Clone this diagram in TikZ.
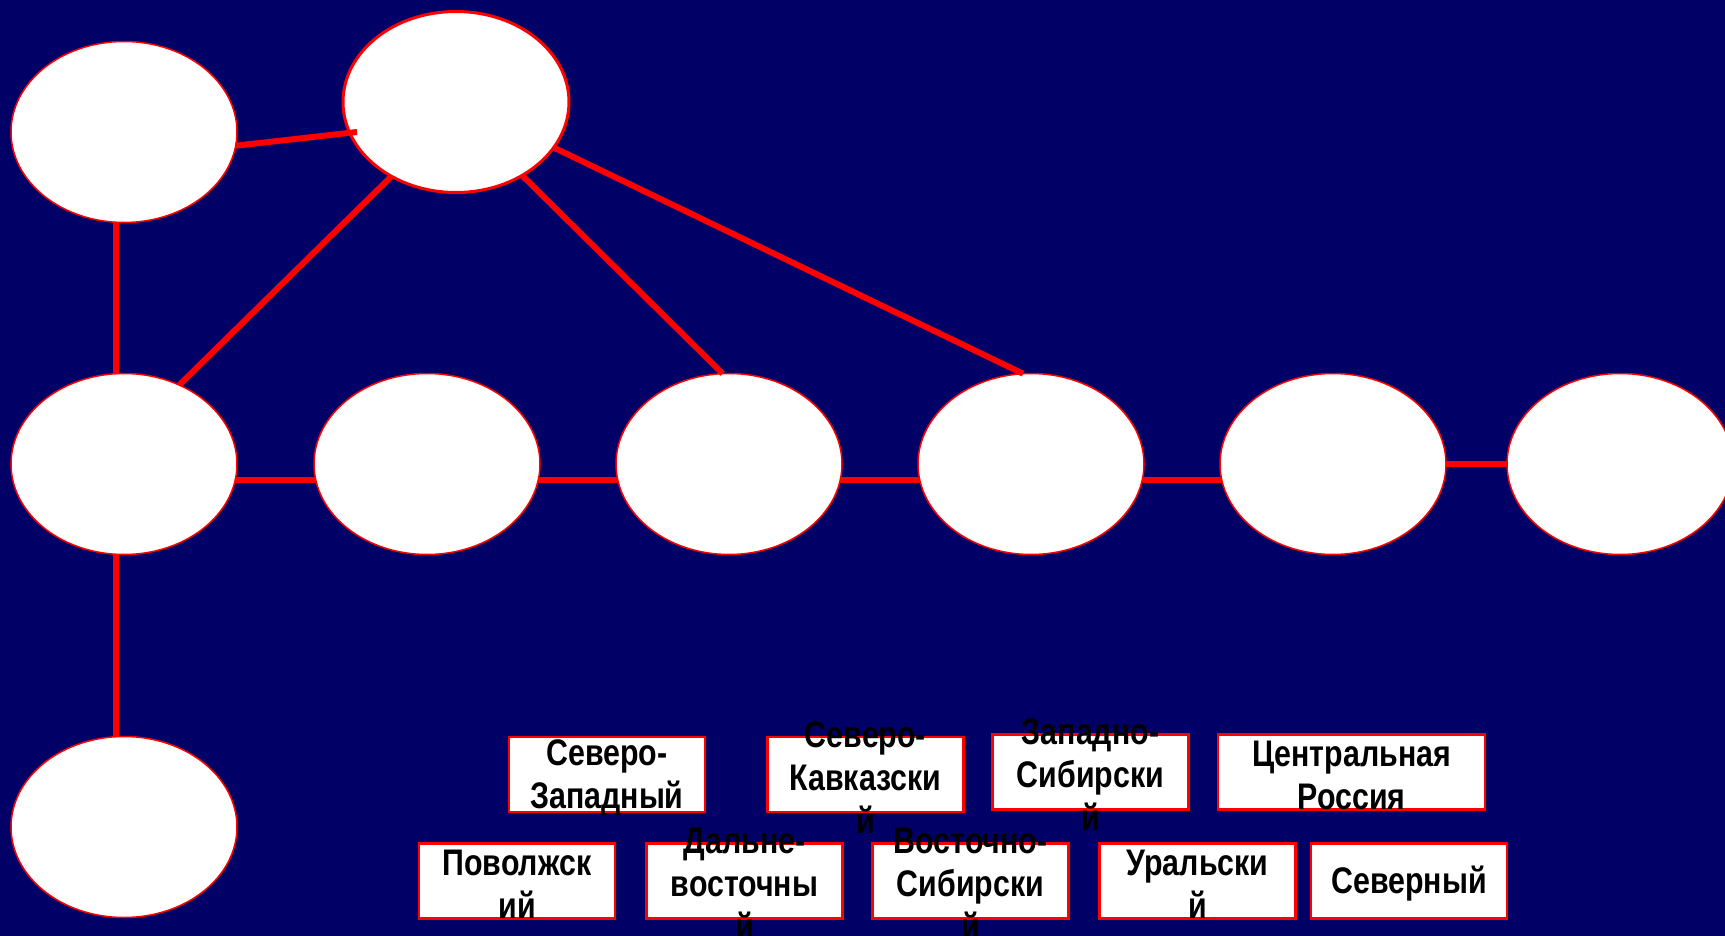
\documentclass[tikz,border=0pt]{standalone}
\usepackage{fontspec}
\newfontfamily\regfont{Liberation Sans}[FakeStretch=0.82]
\usetikzlibrary{shapes.geometric}
\definecolor{bgnavy}{RGB}{0,0,102}

\begin{document}
\begin{tikzpicture}[x=1pt,y=-1pt,
  oval/.style={ellipse,draw=red,fill=white,line width=1.5pt,minimum width=226pt,minimum height=181pt,inner sep=0pt,outer sep=0pt},
  regbox/.style={rectangle,draw=red,fill=white,line width=2.5pt,minimum width=196pt,minimum height=75pt,inner sep=0pt},
  regtext/.style={align=center,text=black,inner sep=0pt,yshift=-3pt,font=\regfont\bfseries\fontsize{37}{43}\selectfont},
  link/.style={draw=red,line width=6pt}]
% Background
\fill[bgnavy] (0,0) rectangle (1725,936);
\useasboundingbox (0,0) rectangle (1725,936);
\clip (0,0) rectangle (1725,936);
% Top ellipses
\node[oval] (a) at (124,132) {};
\node[oval,line width=3pt] (b) at (456,102) {};
% Middle row
\foreach \n/\x in {c1/124,c2/427,c3/729,c4/1031,c5/1333,c6/1620}
  \node[oval] (\n) at (\x,464) {};
% Bottom ellipse
\node[oval] (d) at (124,827) {};
% Links
\coordinate (bin) at (357,132);
\draw[link] (a.353) -- (bin);
\draw[link] (a.265) -- (c1.95);
\draw[link] (b.229) -- (c1.55);
\draw[link] (b.312) -- (c3.94);
\draw[link] (b.335) -- (c4.95);
\foreach \p/\q in {c1/c2,c2/c3,c3/c4,c4/c5}
  \draw[link] (\p.352) -- (\q.188);
\draw[link] (c5.east) -- (c6.west);
\draw[link] (c1.265) -- (d.95);
% Region boxes, upper row
\node[regbox] (nw) at (607,774.5) {};
\node[regtext] (nwt) at (nw) {Северо-\\Западный};
\node[regbox] (nk) at (865.5,774.5) {};
\node[regtext] (nkt) at (nk) {Северо-\\Кавказски\\й};
\node[regbox] (ws) at (1090.5,772) {};
\node[regtext] (wst) at (ws) {Западно-\\Сибирски\\й};
\node[regbox,minimum width=267pt] (cr) at (1351.5,772) {};
\node[regtext] (crt) at (cr) {Центральная\\Россия};
% Region boxes, lower row
\node[regbox] (vo) at (517,881) {};
\node[regtext] (vot) at (vo) {Поволжск\\ий};
\node[regbox] (fe) at (744.5,881) {};
\node[regtext] (fet) at (fe) {Дальне-\\восточны\\й};
\node[regbox] (es) at (970.5,881) {};
\node[regtext] (est) at (es) {Восточно-\\Сибирски\\й};
\node[regbox] (ur) at (1197.5,881) {};
\node[regtext] (urt) at (ur) {Уральски\\й};
\node[regbox] (no) at (1409,881) {};
\node[regtext] (not) at (no) {Северный};
\end{tikzpicture}
\end{document}
